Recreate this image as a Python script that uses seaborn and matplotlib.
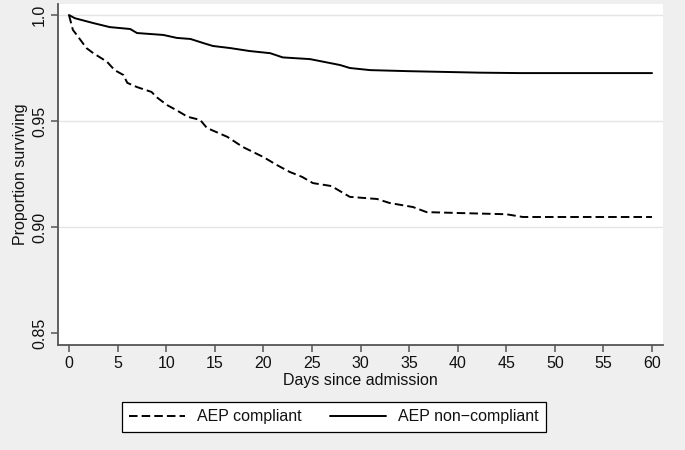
import matplotlib
matplotlib.use("Agg")
import matplotlib.pyplot as plt
import seaborn as sns
import pandas as pd

# Kaplan-Meier survival estimates
compliant_days = [0, 0.4, 0.8, 1.8, 2.5, 3.2, 3.9, 4.7, 5.6, 6.0, 7.0, 8.5, 9.0,
                  10.1, 11.1, 12.2, 13.5, 14.2, 16.3, 17.9, 20.0, 21.4, 22.7, 24.0,
                  25.1, 27.0, 28.9, 31.7, 33.0, 35.4, 36.8, 39.9, 45.0, 46.7, 60.0]
compliant_surv = [1.0, 0.993, 0.9906, 0.9844, 0.982, 0.980, 0.978, 0.974, 0.9717,
                  0.968, 0.966, 0.9637, 0.9613, 0.9575, 0.955, 0.952, 0.9505, 0.9467,
                  0.9425, 0.9377, 0.933, 0.9292, 0.926, 0.9236, 0.9207, 0.9193,
                  0.9142, 0.9132, 0.9113, 0.9094, 0.907, 0.9066, 0.906, 0.9047, 0.9047]

noncompliant_days = [0, 0.4, 0.6, 2.5, 4.2, 6.3, 7.0, 9.7, 11.1, 12.5, 13.8, 14.8,
                     16.6, 18.6, 20.7, 22.0, 24.8, 25.8, 27.9, 28.9, 31.0, 35.0,
                     42.3, 46.4, 60.0]
noncompliant_surv = [1.0, 0.999, 0.9985, 0.9962, 0.9943, 0.9934, 0.9915, 0.9906,
                     0.9892, 0.9887, 0.9868, 0.9854, 0.9844, 0.983, 0.982, 0.980,
                     0.9792, 0.9783, 0.9764, 0.975, 0.974, 0.9735, 0.9728, 0.9726,
                     0.9726]

groups = ["AEP compliant", "AEP non\u2212compliant"]
x_ticks = [0, 5, 10, 15, 20, 25, 30, 35, 40, 45, 50, 55, 60]
y_ticks = [0.85, 0.90, 0.95, 1.0]
y_tick_labels = ["0.85", "0.90", "0.95", "1.0"]

df = pd.concat([
    pd.DataFrame({"day": compliant_days, "surv": compliant_surv, "group": groups[0]}),
    pd.DataFrame({"day": noncompliant_days, "surv": noncompliant_surv, "group": groups[1]}),
], ignore_index=True)

sns.set_theme(style="white")
plt.rcParams["font.family"] = ["Liberation Sans", "DejaVu Sans"]

BG = "#efefef"
fig = plt.figure(figsize=(6.85, 4.5), dpi=100, facecolor=BG)
ax = fig.add_axes([58 / 685, 1 - 345 / 450, (663 - 58) / 685, (345 - 4) / 450])
ax.set_facecolor("white")

for v in [0.90, 0.95, 1.0]:
    ax.axhline(v, color="#e4e4e4", lw=1.0, zorder=0)

sns.lineplot(data=df, x="day", y="surv", style="group", hue="group",
             palette={groups[0]: "black", groups[1]: "black"},
             dashes={groups[0]: (4.4, 2.1), groups[1]: ""},
             style_order=groups, hue_order=groups,
             estimator=None, sort=False, lw=1.4, ax=ax)

ax.set_xlim(-1.13, 61.13)
ax.set_ylim(0.8443, 1.0052)
ax.set_xticks(x_ticks)
ax.set_xticklabels([str(t) for t in x_ticks])
ax.set_yticks(y_ticks)
ax.set_yticklabels(y_tick_labels, rotation=90, va="center")

for s in ["top", "right"]:
    ax.spines[s].set_visible(False)
for s in ["left", "bottom"]:
    ax.spines[s].set_color("#555555")
    ax.spines[s].set_linewidth(1.3)

ax.tick_params(axis="both", direction="out", length=5, width=1.1, color="#555555",
               labelsize=11.5, labelcolor="#111111", pad=3, left=True, bottom=True)

ax.set_xlabel("Days since admission", fontsize=11.5, color="#111111", labelpad=1)
ax.set_ylabel("Proportion surviving", fontsize=11.5, color="#111111", labelpad=3)

handles, labels = ax.get_legend_handles_labels()
ax.legend(handles, labels, loc="center", bbox_to_anchor=(334 / 685, 1 - 417 / 450),
          bbox_transform=fig.transFigure, ncol=2, frameon=True, fancybox=False,
          edgecolor="black", facecolor="white", fontsize=11.5, handlelength=3.5,
          handletextpad=0.75, columnspacing=1.8, borderpad=0.45, framealpha=1)
leg = ax.get_legend()
leg.get_frame().set_linewidth(0.9)
for t in leg.get_texts():
    t.set_color("#111111")

fig.savefig("out.png", dpi=100, facecolor=BG)
